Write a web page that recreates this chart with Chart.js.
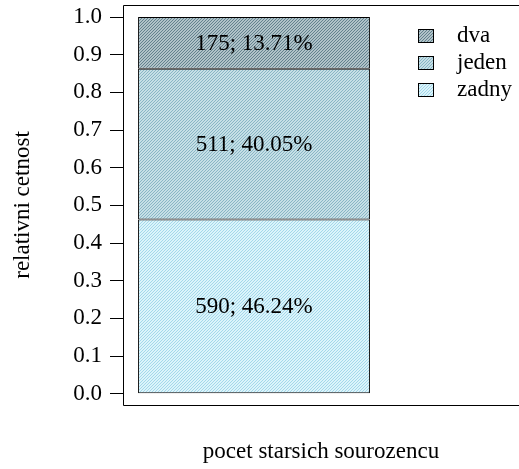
<!DOCTYPE html>
<html><head><meta charset="utf-8">
<script src="https://cdn.jsdelivr.net/npm/chart.js@4/dist/chart.umd.min.js"></script>
<style>html,body{margin:0;padding:0;background:#fff}#wrap{width:519px;height:469px}</style>
</head><body><div id="wrap"><canvas id="c" width="519" height="469"></canvas></div>
<script>
const categories = ['pocet starsich sourozencu'];
const seriesNames = ['zadny', 'jeden', 'dva'];
const counts = [590, 511, 175];
const relative = [0.4624, 0.4005, 0.1371];
const percentLabels = ['46.24%', '40.05%', '13.71%'];
const yTicks = [0.0, 0.1, 0.2, 0.3, 0.4, 0.5, 0.6, 0.7, 0.8, 0.9, 1.0];
const xTitle = 'pocet starsich sourozencu';
const yTitle = 'relativni cetnost';

const FONT = "'Liberation Serif', 'Times New Roman', Times, serif";
const FS = 23;

function hatch(bg, line) {
  const t = document.createElement('canvas');
  t.width = 3; t.height = 3;
  const g = t.getContext('2d');
  g.fillStyle = bg; g.fillRect(0, 0, 3, 3);
  g.fillStyle = line;
  for (let x = 0; x < 3; x++) for (let y = 0; y < 3; y++) {
    if ((x + y) % 3 === 0) g.fillRect(x, y, 1, 1);
  }
  return g.createPattern(t, 'repeat');
}
const fills = [
  hatch('#dcf4fb', '#a3d8ea'),
  hatch('#c6dfe6', '#88b6c5'),
  hatch('#b0c2c8', '#62828e')
];

const framePlugin = {
  id: 'framePlugin',
  afterDraw(chart) {
    const c = chart.ctx, a = chart.chartArea;
    c.save();
    c.strokeStyle = '#000'; c.lineWidth = 1;
    c.beginPath();
    c.moveTo(chart.width + 2, a.top + 0.5);
    c.lineTo(a.left + 0.5, a.top + 0.5);
    c.lineTo(a.left + 0.5, a.bottom + 0.5);
    c.lineTo(chart.width + 2, a.bottom + 0.5);
    c.stroke();
    c.fillStyle = '#000';
    c.font = FS + 'px ' + FONT;
    c.textAlign = 'center'; c.textBaseline = 'middle';
    chart.data.datasets.forEach((ds, i) => {
      const el = chart.getDatasetMeta(i).data[0];
      const p = el.getProps(['x', 'y', 'base'], true);
      c.fillText(counts[i] + '; ' + percentLabels[i], p.x, (p.y + p.base) / 2 + 1);
    });
    const lx = 418, ly0 = 35, step = 27;
    c.textAlign = 'left';
    for (let k = 0; k < seriesNames.length; k++) {
      const i = seriesNames.length - 1 - k;
      const cy = ly0 + k * step;
      c.fillStyle = fills[i];
      c.fillRect(lx, cy - 6, 15, 13);
      c.strokeRect(lx + 0.5, cy - 6 + 0.5, 15, 13);
      c.fillStyle = '#000';
      c.fillText(seriesNames[i], 457, cy + 1);
    }
    c.textAlign = 'center';
    c.fillText(xTitle, (a.left + chart.width) / 2, 452);
    c.restore();
  }
};

new Chart(document.getElementById('c'), {
  type: 'bar',
  data: {
    labels: categories,
    datasets: seriesNames.map((n, i) => ({
      label: n,
      data: [relative[i]],
      backgroundColor: fills[i],
      borderColor: '#000',
      borderWidth: 1,
      borderSkipped: false,
      categoryPercentage: 1,
      barPercentage: 0.885
    }))
  },
  options: {
    responsive: false,
    devicePixelRatio: 1,
    animation: false,
    font: { family: FONT },
    layout: { padding: { top: 5, right: 134, bottom: 64, left: 0 } },
    plugins: { legend: { display: false }, tooltip: { enabled: false } },
    scales: {
      x: { stacked: true, display: false },
      y: {
        stacked: true,
        min: -0.03, max: 1.032,
        afterBuildTicks(s) { s.ticks = yTicks.map(v => ({ value: v })); },
        afterFit(s) { s.width = 123; s.paddingTop = 0; s.paddingBottom = 0; },
        border: { display: false },
        grid: { drawOnChartArea: false, drawTicks: true, tickLength: 13, color: '#000', lineWidth: 1 },
        ticks: {
          color: '#000', padding: 8,
          font: { family: FONT, size: FS },
          callback: v => Number(v).toFixed(1)
        },
        title: {
          display: true, text: yTitle, color: '#000',
          font: { family: FONT, size: FS },
          padding: { top: 9, bottom: 0 }
        }
      }
    }
  },
  plugins: [framePlugin]
});
</script></body></html>
